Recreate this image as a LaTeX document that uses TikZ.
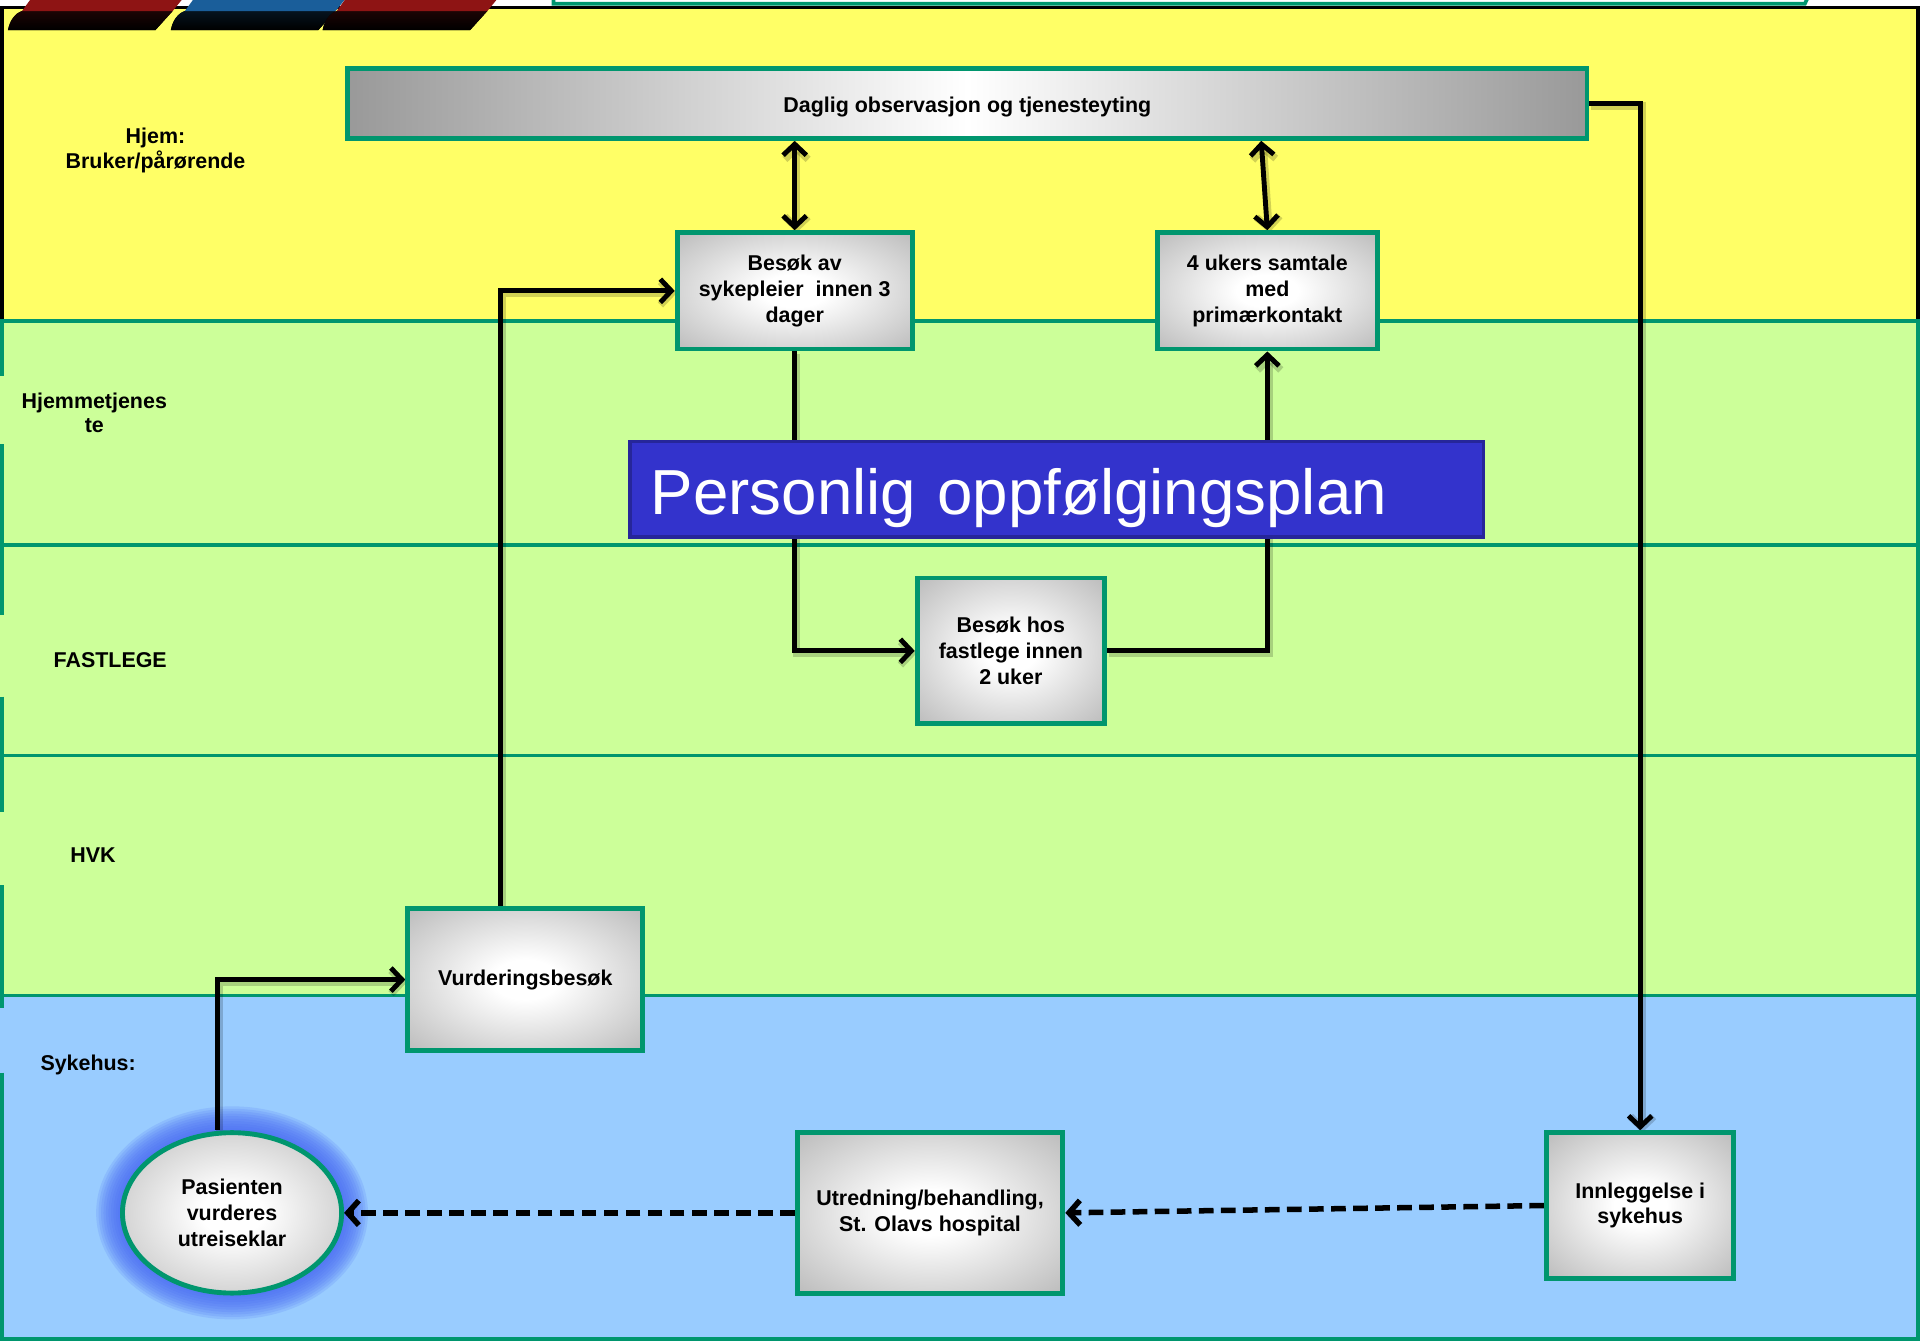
\documentclass[tikz,border=0pt]{standalone}
\usepackage{fontspec}
\setmainfont{Liberation Sans}
\usetikzlibrary{arrows.meta,shapes.geometric,calc}
\definecolor{laneY}{HTML}{FFFF66}
\definecolor{laneG}{HTML}{CCFF99}
\definecolor{laneB}{HTML}{99CCFF}
\definecolor{tealb}{HTML}{00966E}
\definecolor{bannerfill}{HTML}{3333CC}
\definecolor{bannerline}{HTML}{26269A}
\definecolor{glowblue}{HTML}{4A6CF4}
\definecolor{tabred}{HTML}{8E1414}
\definecolor{tabblue}{HTML}{1A5E9A}
\pgfdeclarelayer{bg}
\pgfdeclarelayer{lines}
\pgfsetlayers{bg,lines,main}
\pgfdeclareradialshading{boxshade}{\pgfpoint{0bp}{0bp}}{color(0bp)=(white); color(7bp)=(white); color(50bp)=(gray!80)}
\tikzset{
  lanelabel/.style={font=\bfseries\fontsize{17.5}{20}\selectfont, align=center, inner sep=0},
  procbox/.style={rectangle, draw=tealb, line width=4pt, shading=boxshade, align=center,
    font=\bfseries\fontsize{17.5}{21}\selectfont, inner sep=0},
  conn/.style={line width=4pt, black, -{Straight Barb[length=9pt,width=19pt]},
    preaction={draw=black, opacity=0.18, line width=6pt, transform canvas={shift={(1.5pt,-2pt)}}}},
  biconn/.style={conn, {Straight Barb[length=9pt,width=19pt]}-{Straight Barb[length=9pt,width=19pt]}},
  dconn/.style={line width=4.5pt, black, -{Straight Barb[length=9pt,width=20pt]}, dash pattern=on 12pt off 6pt},
  sepline/.style={draw=tealb, line width=3pt},
}
\begin{document}
\begin{tikzpicture}[x=1pt,y=-1pt]
\useasboundingbox (0,0) rectangle (1568,1095);

% ---------- nodes ----------
\node[procbox, minimum width=1012pt, minimum height=57pt,
      shading=axis, left color=gray!80, right color=gray!80, middle color=white]
      (daglig) at (790,84.5) {\raisebox{-3pt}[\height][\depth]{Daglig observasjon og tjenesteyting}};
\node[procbox, minimum width=192pt, minimum height=95pt] (besok) at (649,237.5)
      {Besøk av\\sykepleier\ \ innen 3\\dager};
\node[procbox, minimum width=180pt, minimum height=95pt] (ukers) at (1035,237.5)
      {4 ukers samtale\\med\\primærkontakt};
\node[rectangle, draw=bannerline, line width=3pt, fill=bannerfill, minimum width=697pt,
      minimum height=78pt, inner xsep=17pt, text width=663pt, align=left, text=white,
      font=\fontsize{52}{60}\selectfont] (banner) at (863,399.5)
      {\raisebox{-7pt}[\height][\depth]{Personlig oppfølgingsplan}};
\node[procbox, minimum width=153pt, minimum height=119pt] (fast) at (825.5,531.5)
      {Besøk hos\\fastlege innen\\2 uker};
\node[procbox, minimum width=192pt, minimum height=116pt] (vurd) at (429,800)
      {Vurderingsbesøk};
\node[procbox, ellipse, minimum width=179pt, minimum height=131pt] (pas) at (189.5,990.5)
      {Pasienten\\vurderes\\utreiseklar};
\node[procbox, minimum width=217pt, minimum height=131pt] (utr) at (759.5,990.5)
      {Utredning/behandling,\\St. Olavs hospital};
\node[procbox, minimum width=153pt, minimum height=119pt] (innl) at (1339.5,984.5)
      {Innleggelse i\\sykehus};

% ---------- lane labels ----------
\node[lanelabel] (lblhjem) at (127,123) {Hjem:\\Bruker/pårørende};
\node[lanelabel] (lblhjt) at (77,337) {Hjemmetjenes\\te};
\node[lanelabel] (lblfast) at (90,539) {FASTLEGE};
\node[lanelabel] (lblhvk) at (76,698) {HVK};
\node[lanelabel] (lblsyk) at (72,870) {Sykehus:};

% ---------- background ----------
\begin{pgfonlayer}{bg}
  \fill[white] (0,0) rectangle (1568,1095);
  \fill[laneY] (0,6) rectangle (1568,262);
  \fill[laneG] (0,262) rectangle (1568,813);
  \fill[laneB] (0,813) rectangle (1568,1095);
  % borders
  \draw[black, line width=3pt] (1.5,262) -- (1.5,6) -- (1566.5,6) -- (1566.5,262);
  \draw[tealb, line width=3pt] (1566.5,262) -- (1566.5,1093.5);
  \foreach \a/\b in {262/307,363/502,569/663,723/823,876/1093.5}
    \draw[tealb, line width=3pt] (1.5,\a) -- (1.5,\b);
  \foreach \yy in {262,445,617,813,1093.5}
    \draw[sepline] (0,\yy) -- (1568,\yy);
  % top white frame
  \draw[tealb, line width=3pt, fill=white] (452,-10) -- (452,3) -- (1474,3) -- (1480,-10);
  % tabs
  \foreach \bx/\col in {0/tabred,133/tabblue,257/tabred}{
    \fill[top color=black!80!\col, bottom color=black]
      (\bx+6.5,24.5) .. controls (\bx+8,17) and (\bx+12,11) .. (\bx+18,9) -- (\bx+141,9) -- (\bx+127,24.5) -- cycle;
    \fill[\col] (\bx+18,9) -- (\bx+141,9) -- (\bx+150,-2) -- (\bx+26,-2) -- cycle;
  }
  % glow around ellipse
  \foreach \i in {0,...,10}
    \fill[glowblue, opacity=0.16] (pas.center) ellipse ({91+2*\i} and {67+2*\i});
\end{pgfonlayer}

% ---------- connectors ----------
\begin{pgfonlayer}{lines}
  \draw[biconn] (besok.north |- daglig.south) -- (besok.north);
  \coordinate (d2) at ([xshift=-5pt]ukers.north |- daglig.south);
  \draw[biconn] (d2) -- (ukers.north);
  \draw[conn] (daglig.east) -| (innl.north);
  \draw[conn] ([xshift=-20pt]vurd.north) |- (besok.west);
  \draw[conn] ([xshift=-12pt]pas.north) |- (vurd.west);
  \draw[conn] (besok.south) |- (fast.west);
  \draw[conn] (fast.east) -| (ukers.south);
  \draw[dconn] (innl.west) -- (utr.east);
  \draw[dconn] (utr.west) -- (pas.east);
\end{pgfonlayer}
\end{tikzpicture}
\end{document}
